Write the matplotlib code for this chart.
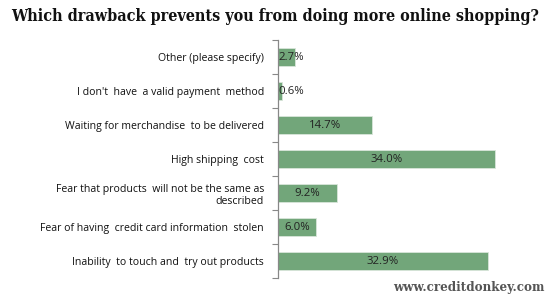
import matplotlib.pyplot as plt
import numpy as np

categorias = [
    "Other (please specify)",
    "I don't  have  a valid payment  method",
    "Waiting for merchandise  to be delivered",
    "High shipping  cost",
    "Fear that products  will not be the same as\ndescribed",
    "Fear of having  credit card information  stolen",
    "Inability  to touch and  try out products",
]
porcentajes = [2.7, 0.6, 14.7, 34.0, 9.2, 6.0, 32.9]
etiquetas = ["2.7%", "0.6%", "14.7%", "34.0%", "9.2%", "6.0%", "32.9%"]

color_barra = "#72a67a"

fig = plt.figure(figsize=(5.5, 3.0), dpi=100)
ax = fig.add_axes([278 / 550, 22 / 300, 255 / 550, 238 / 300])

y = np.arange(len(categorias))
ax.barh(y, porcentajes, height=0.53, color=color_barra, edgecolor="#d9e6da", linewidth=0.6)

ax.set_xlim(0, 40)
ax.set_ylim(len(categorias) - 0.5, -0.5)

for i, v in enumerate(porcentajes):
    if v < 5:
        ax.text(0.05, i, etiquetas[i], ha="left", va="center", fontsize=8.2,
                family="Open Sans", color="#222222")
    else:
        ax.text(v / 2, i, etiquetas[i], ha="center", va="center", fontsize=8.2,
                family="Open Sans", color="#222222")

ax.set_yticks(y)
ax.set_yticklabels(categorias, fontsize=7.6, family="Open Sans", color="#111111")
ax.tick_params(axis="y", which="major", length=0, pad=10)
ax.set_yticks(np.arange(-0.5, len(categorias)), minor=True)
ax.tick_params(axis="y", which="minor", length=4, color="#888888", width=0.8)
ax.set_xticks([])

for lado in ["top", "right", "bottom"]:
    ax.spines[lado].set_visible(False)
ax.spines["left"].set_color("#888888")
ax.spines["left"].set_linewidth(0.9)

fig.text(0.5, 0.945, "Which drawback prevents you from doing more online shopping?",
         ha="center", va="center", fontsize=11.5, fontweight="bold",
         family="DejaVu Serif", fontstretch="condensed", color="#111111")
fig.text(0.99, 0.04, "www.creditdonkey.com", ha="right", va="center",
         fontsize=9.5, fontweight="bold", family="DejaVu Serif",
         fontstretch="condensed", color="#555555")

fig.savefig("out.png", dpi=100)
